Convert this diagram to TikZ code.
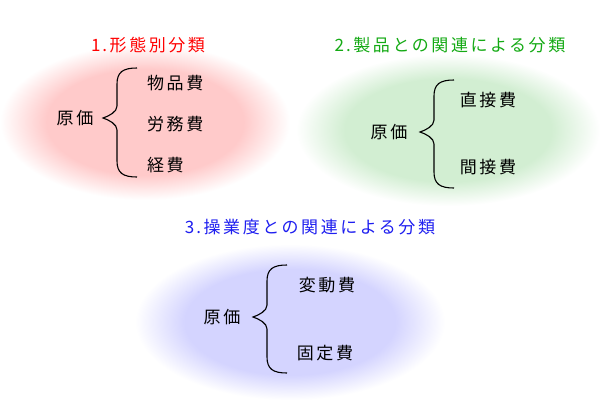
\documentclass[tikz,border=0pt]{standalone}
\usepackage{fontspec}
\newfontfamily\jp[LetterSpace=15]{Noto Sans CJK JP}
\definecolor{pinkc}{RGB}{255,202,202}
\definecolor{greenc}{RGB}{210,238,210}
\definecolor{bluec}{RGB}{212,212,255}
\definecolor{tred}{RGB}{255,0,0}
\definecolor{tgreen}{RGB}{20,170,20}
\definecolor{tblue}{RGB}{30,30,240}
\pgfdeclareradialshading{pinkblob}{\pgfpoint{0bp}{0bp}}{color(0bp)=(pinkc); color(17bp)=(pinkc); color(25bp)=(white); color(50bp)=(white)}
\pgfdeclareradialshading{greenblob}{\pgfpoint{0bp}{0bp}}{color(0bp)=(greenc); color(17bp)=(greenc); color(25bp)=(white); color(50bp)=(white)}
\pgfdeclareradialshading{blueblob}{\pgfpoint{0bp}{0bp}}{color(0bp)=(bluec); color(17bp)=(bluec); color(25bp)=(white); color(50bp)=(white)}
\newcommand{\curlyb}[4]{%
  \draw[bracestyle] ({#1+34},#3) .. controls ({#1+20},#3) and ({#1+14},{#3+4}) .. ({#1+14},{#3+16})
    -- ({#1+14},{#2-12}) .. controls ({#1+14},{#2-6}) and ({#1+6},{#2-2}) .. (#1,#2)
    .. controls ({#1+6},{#2+2}) and ({#1+14},{#2+6}) .. ({#1+14},{#2+12})
    -- ({#1+14},{#4-16}) .. controls ({#1+14},{#4-4}) and ({#1+20},#4) .. ({#1+34},#4);}
\tikzset{
  lbl/.style={inner sep=0pt, font=\jp\fontsize{17}{20}\selectfont, text=black},
  ttl/.style={inner sep=0pt, font=\jp\fontsize{17}{20}\selectfont},
  bracestyle/.style={draw=black, line width=1.1pt}
}
\begin{document}
\begin{tikzpicture}[x=1pt, y=-1pt]
\useasboundingbox (0,0) rectangle (600,400);
\fill[white] (0,0) rectangle (600,400);
% blobs
\shade[shading=pinkblob] (145,122) ellipse [x radius=145, y radius=78];
\shade[shading=greenblob] (448,130) ellipse [x radius=152, y radius=76];
\shade[shading=blueblob] (290,322) ellipse [x radius=155, y radius=78];
% titles
\node[ttl, text=tred] (t1) at (148,45) {1\kern2pt.形態別分類};
\node[ttl, text=tgreen] (t2) at (450,45) {2\kern2pt.製品との関連による分類};
\node[ttl, text=tblue] (t3) at (310,227) {3\kern2pt.操業度との関連による分類};
% panel 1
\node[lbl] (o1) at (75,118) {原価};
\node[lbl, anchor=west] (a1) at (147,83) {物品費};
\node[lbl, anchor=west] (b1) at (147,124) {労務費};
\node[lbl, anchor=west] (c1) at (147,165) {経費};
\curlyb{103}{118}{68}{177}
% panel 2
\node[lbl] (o2) at (389,132) {原価};
\node[lbl] (a2) at (488,100) {直接費};
\node[lbl] (b2) at (488,167) {間接費};
\curlyb{420}{132}{80}{188}
% panel 3
\node[lbl] (o3) at (222,317) {原価};
\node[lbl] (a3) at (327,285) {変動費};
\node[lbl] (b3) at (325,353) {固定費};
\curlyb{253}{317}{265}{373}
\end{tikzpicture}
\end{document}
